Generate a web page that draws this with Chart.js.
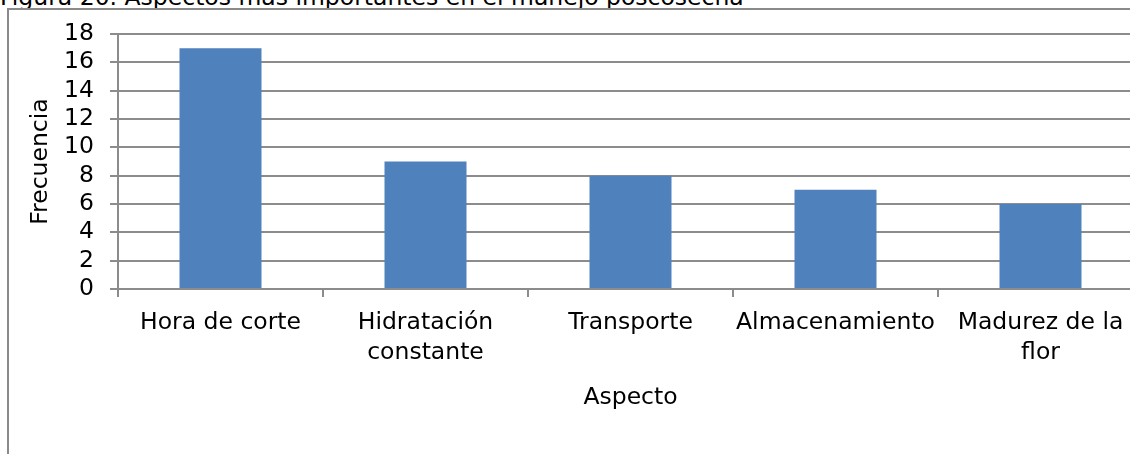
<!DOCTYPE html>
<html>
<head>
<meta charset="utf-8">
<script src="https://cdn.jsdelivr.net/npm/chart.js@4.4.1/dist/chart.umd.min.js"></script>
<style>
  html, body { margin: 0; padding: 0; background: #fff; overflow: hidden; }
  body { width: 1130px; height: 454px; position: relative; }
  #title { position: absolute; left: 0px; top: -14px; font-family: 'DejaVu Sans', sans-serif; font-size: 23.5px; line-height: 23px; color: #000; white-space: nowrap; }
  #frame { position: absolute; left: 7px; top: 8px; width: 1200px; height: 500px; border-left: 2px solid #8a8a8a; border-top: 2px solid #8a8a8a; }
  #wrap { position: absolute; left: 0; top: 0; width: 1150px; height: 454px; }
</style>
</head>
<body>
<div id="title">Figura 20. Aspectos más importantes en el manejo poscosecha</div>
<div id="frame"></div>
<div id="wrap"><canvas id="c"></canvas></div>
<script>
const categories = [["Hora de corte"], ["Hidratación", "constante"], ["Transporte"], ["Almacenamiento"], ["Madurez de la", "flor"]];
const frecuencia = [17, 9, 8, 7, 6];
const yTicks = [0, 2, 4, 6, 8, 10, 12, 14, 16, 18];

const fam = "'DejaVu Sans', sans-serif";
const gridGray = '#8c8c8c';

new Chart(document.getElementById('c'), {
  type: 'bar',
  data: {
    labels: categories,
    datasets: [{
      label: 'Frecuencia',
      data: frecuencia,
      backgroundColor: '#4F81BD',
      borderWidth: 0,
      categoryPercentage: 1.0,
      barPercentage: 0.4
    }]
  },
  options: {
    responsive: true,
    maintainAspectRatio: false,
    animation: false,
    devicePixelRatio: 1,
    layout: { padding: { left: 0, right: 7, top: 34, bottom: 0 } },
    plugins: { legend: { display: false }, tooltip: { enabled: false } },
    scales: {
      x: {
        grid: { display: true, drawOnChartArea: false, drawTicks: true, tickLength: 8, color: gridGray, lineWidth: 2, offset: true },
        border: { display: true, color: gridGray, width: 2 },
        ticks: { color: '#000', font: { family: fam, size: 23.5, lineHeight: 1.28 }, padding: 11, maxRotation: 0, autoSkip: false },
        title: { display: true, text: 'Aspecto', color: '#000', font: { family: fam, size: 23.5 }, padding: { top: 4, bottom: 42 } },
        afterFit: (s) => { s.height = 165; }
      },
      y: {
        min: 0, max: 18,
        afterBuildTicks: (s) => { s.ticks = yTicks.map(v => ({ value: v })); },
        grid: { display: true, drawOnChartArea: true, drawTicks: true, tickLength: 8, color: gridGray, lineWidth: 2 },
        border: { display: true, color: gridGray, width: 2 },
        ticks: { color: '#000', font: { family: fam, size: 23.5 }, padding: 16, autoSkip: false },
        title: { display: true, text: 'Frecuencia', color: '#000', font: { family: fam, size: 23.5 }, padding: { top: 27, bottom: 0 } },
        afterFit: (s) => { s.width = 118; }
      }
    }
  }
});
</script>
</body>
</html>
